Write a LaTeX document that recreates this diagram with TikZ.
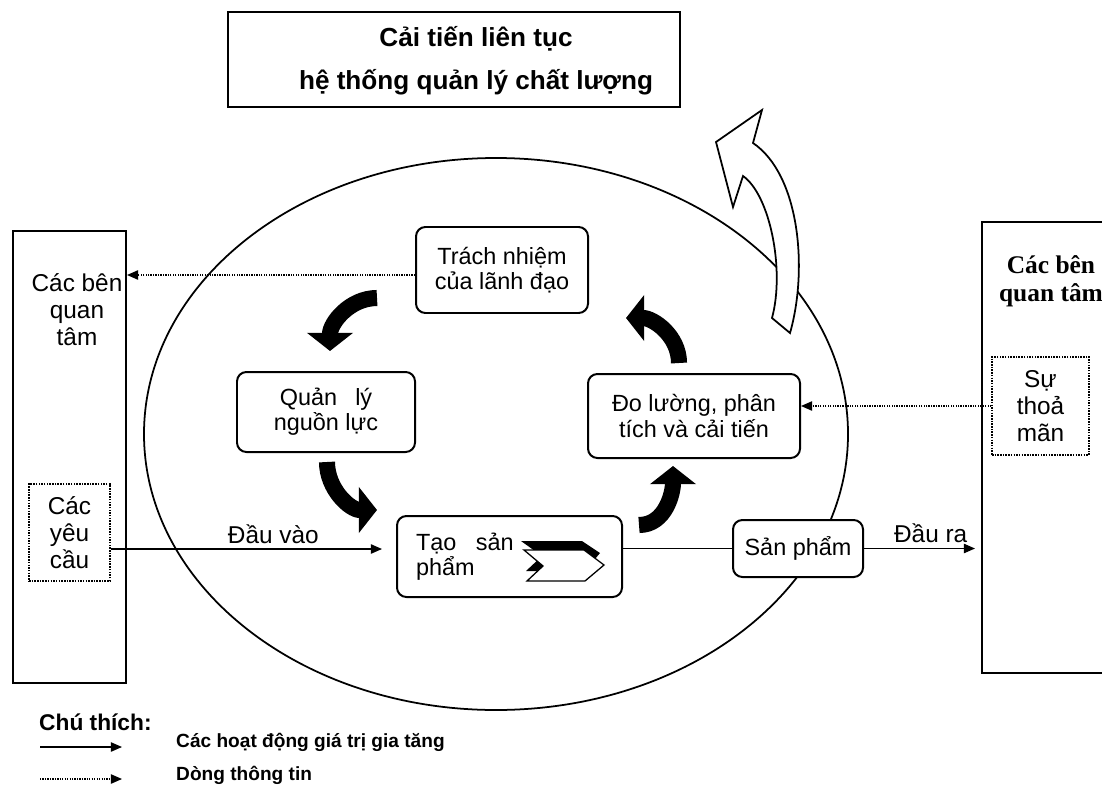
\documentclass[tikz,border=0pt]{standalone}
\usepackage{fontspec}
\setmainfont{Liberation Sans}
\newfontfamily\serifbold{Liberation Serif}
\usetikzlibrary{calc,arrows.meta}
\newcommand{\titlefont}{\fontsize{22.3}{36.5}\selectfont\bfseries}
\newcommand{\boxfont}{\fontsize{20}{21.5}\selectfont}
\newcommand{\sidefont}{\fontsize{20.8}{23}\selectfont}
\newcommand{\serifhead}{\serifbold\fontsize{21.7}{24}\selectfont\bfseries}
\newcommand{\keyhead}{\fontsize{19.4}{22}\selectfont\bfseries}
\newcommand{\keyfont}{\fontsize{16.3}{19}\selectfont\bfseries}
\tikzset{
  wh/.style 2 args={minimum width=#1*0.03cm, minimum height=#2*0.03cm},
  stage/.style={draw, line width=1.7pt, rounded corners=8pt, fill=white, align=center, inner sep=0pt, font=\boxfont},
  panel/.style={draw, line width=1.7pt, fill=white, inner sep=0pt},
  dotbox/.style={draw, densely dotted, line width=1.3pt, fill=white, align=center, inner sep=0pt, font=\sidefont},
  flow/.style={line width=1.1pt, -{Triangle[length=9.5pt, width=8pt]}},
  info/.style={line width=1.1pt, densely dotted, -{Triangle[length=9.5pt, width=8pt]}},
  turn/.style={line width=13.7pt, -{Triangle[length=15.5pt, width=38.5pt]}},
}

\begin{document}
\begin{tikzpicture}[x=0.03cm, y=0.03cm]
  \useasboundingbox (0,0) rectangle (1102,-786);
  % the quality system
  \draw[line width=1.5pt] (496,-434) ellipse [x radius=352, y radius=276];
  % hollow arrow towards the goal
  \draw[line width=1.5pt, fill=white, line join=miter] (772,-318) -- (790,-333)
    .. controls (808,-270) and (800,-175) .. (753,-143)
    -- (762,-110) -- (716,-142) -- (733,-207) -- (743,-176)
    .. controls (770,-195) and (785,-270) .. (772,-318) -- cycle;

  \node[panel, wh={452}{95}] (goal) at (454,-59.5) {};
  \node[font=\titlefont, align=center, inner sep=0pt] (goaltext) at (476,-61) {Cải tiến liên tục\\hệ thống quản lý chất lượng};
  \node[panel, wh={113}{452}] (interestL) at (69.5,-457) {};
  \node[panel, wh={133}{451}] (interestR) at (1048.5,-447.5) {};
  \node[font=\sidefont, align=center, inner sep=0pt] (interestLtext) at (77,-309.5) {Các bên\\quan\\tâm};
  \node[font=\serifhead, align=center, inner sep=0pt] (interestRtext) at (1051,-281) {Các bên\\quan tâm};
  \node[dotbox, wh={81}{97}] (needs) at (69.5,-532.5) {Các\\yêu\\cầu};
  \node[dotbox, wh={97}{98}] (satisf) at (1040.5,-406) {Sự\\thoả\\mãn};

  \node[stage, wh={172}{86}] (lead) at (502,-270) {Trách nhiệm\\của lãnh đạo};
  \node[stage, wh={178}{80}] (resource) at (326,-412) {Quản\hspace{0.5em} lý\\nguồn lực};
  \node[stage, wh={212}{84}] (measure) at (694,-416) {Đo lường, phân\\tích và cải tiến};
  \node[stage, wh={225}{81}, text width=187*0.03cm, align=left] (realise) at (509.5,-556.5) {Tạo\hspace{0.5em} sản\\phẩm};
  \node[stage, wh={130}{57}] (product) at (798,-548.5) {Sản phẩm};

  % chevron inside the product realisation box
  \fill (521,-541) -- (582,-541) -- (600,-553) -- (585,-571) -- (526,-571) -- (542,-556) -- cycle;
  \draw[line width=1.1pt, fill=white, line join=miter] (524,-550) -- (584,-550) -- (604,-565) -- (585,-581) -- (527,-581) -- (543,-566) -- cycle;

  % value adding flow
  \coordinate (flowrow) at (0,-549);
  \draw[flow, shorten >=14*0.03cm] (needs.east |- flowrow) -- node[pos=0.57, above=1pt, font=\sidefont] {Đầu vào} (realise.west |- flowrow);
  \draw[line width=1.1pt] (realise.east |- product.west) -- (product.west);
  \draw[flow, shorten >=6*0.03cm] (product.east) -- node[pos=0.57, above=1pt, font=\sidefont] {Đầu ra} (interestR.west |- product.east);

  % information flow
  \coordinate (leadout) at ($(lead.west)+(0,-5)$);
  \draw[info] (leadout) -- (leadout -| interestL.east);
  \draw[info] (satisf.west) -- (satisf.west -| measure.east);

  % the cycle
  \coordinate (t1) at (377,-298); \coordinate (h1) at (330,-351);
  \coordinate (t2) at (327,-462); \coordinate (h2) at (377,-510);
  \coordinate (t3) at (639,-525); \coordinate (h3) at (673,-466);
  \coordinate (t4) at (679,-363); \coordinate (h4) at (626,-318);
  \draw[turn] (t1) to[out=180, in=90] (h1);
  \draw[turn] (t2) to[out=-90, in=180] (h2);
  \draw[turn] (t3) to[out=0, in=-90] (h3);
  \draw[turn] (t4) to[out=90, in=0] (h4);

  % legend
  \node[anchor=west, font=\keyhead, inner sep=0pt] (key) at (39,-722) {Chú thích:};
  \node[anchor=west, font=\keyfont, inner sep=0pt] (keyact) at (176,-742) {Các hoạt động giá trị gia tăng};
  \node[anchor=west, font=\keyfont, inner sep=0pt] (keyinfo) at (176,-775) {Dòng thông tin};
  \coordinate (k1) at (40,-747);
  \coordinate (k2) at (40,-779);
  \draw[flow] (k1) -- ($(k1 -| keyact.west)+(-54,0)$);
  \draw[info] (k2) -- ($(k2 -| keyinfo.west)+(-54,0)$);
\end{tikzpicture}
\end{document}
